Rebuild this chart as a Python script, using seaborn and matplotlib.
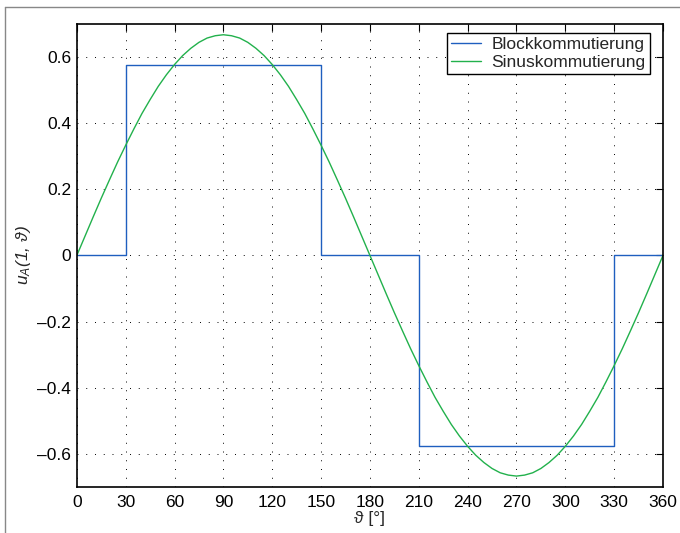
import numpy as np
import pandas as pd
import matplotlib
matplotlib.use('Agg')
import matplotlib.pyplot as plt
import seaborn as sns
from matplotlib.lines import Line2D

# block commutation (step points, steps-post)
theta_block = [0, 30, 150, 210, 330, 360]
u_block = [0.0, 0.577, 0.0, -0.577, 0.0, 0.0]

# sine commutation, read every 5 degrees
theta_sin = list(range(0, 365, 5))
u_sin = [0.000, 0.058, 0.116, 0.173, 0.228, 0.282, 0.333, 0.382, 0.429, 0.471,
         0.511, 0.546, 0.577, 0.604, 0.626, 0.644, 0.657, 0.664, 0.667, 0.664,
         0.657, 0.644, 0.626, 0.604, 0.577, 0.546, 0.511, 0.471, 0.429, 0.382,
         0.333, 0.282, 0.228, 0.173, 0.116, 0.058, 0.000, -0.058, -0.116, -0.173,
         -0.228, -0.282, -0.333, -0.382, -0.429, -0.471, -0.511, -0.546, -0.577, -0.604,
         -0.626, -0.644, -0.657, -0.664, -0.667, -0.664, -0.657, -0.644, -0.626, -0.604,
         -0.577, -0.546, -0.511, -0.471, -0.429, -0.382, -0.333, -0.282, -0.228, -0.173,
         -0.116, -0.058, 0.000]

xticks = list(range(0, 361, 30))
yticks = [-0.6, -0.4, -0.2, 0, 0.2, 0.4, 0.6]
ytick_labels = ['\u20130.6', '\u20130.4', '\u20130.2', '0', '0.2', '0.4', '0.6']

sns.set_theme(style='white')
plt.rcParams['font.family'] = ['Liberation Sans', 'DejaVu Sans']
plt.rcParams['mathtext.fontset'] = 'custom'
plt.rcParams['mathtext.rm'] = 'Liberation Sans'
plt.rcParams['mathtext.it'] = 'Liberation Sans:italic'
plt.rcParams['mathtext.fallback'] = 'stixsans'

fig = plt.figure(figsize=(6.8, 5.33), dpi=100)
ax = fig.add_axes([0.113, 0.0863, 0.862, 0.869])

df_block = pd.DataFrame({'theta': theta_block, 'u': u_block})
df_sin = pd.DataFrame({'theta': theta_sin, 'u': u_sin})

sns.lineplot(data=df_block, x='theta', y='u', ax=ax, color='#1f5fbf', lw=1.0,
             drawstyle='steps-post', label='Blockkommutierung')
sns.lineplot(data=df_sin, x='theta', y='u', ax=ax, color='#22b14c', lw=1.0,
             label='Sinuskommutierung')

ax.set_xlim(0, 360)
ax.set_ylim(-0.7, 0.7)
ax.set_xticks(xticks)
ax.set_yticks(yticks)
ax.set_yticklabels(ytick_labels)
ax.tick_params(direction='in', length=5, width=0.8, top=True, right=True,
               labelsize=12.5, colors='black')
ax.tick_params(axis='x', pad=5.5)
ax.tick_params(axis='y', pad=4)
ax.grid(True, color='black', linestyle=(0, (1, 8)), linewidth=0.7)
for s in ax.spines.values():
    s.set_color('black')
    s.set_linewidth(1.2)

ax.set_xlabel('\u03d1 [°]', fontsize=12.5, labelpad=1)
ax.set_ylabel('u$_A$(1, \u03d1)', fontsize=12.5, fontstyle='italic', labelpad=3)

leg = ax.legend(loc='upper right', bbox_to_anchor=(0.978, 0.981), borderaxespad=0,
                fontsize=12.5, frameon=True, fancybox=False,
                handlelength=1.75, handletextpad=0.6, borderpad=0.25,
                labelspacing=0.15)
leg.get_frame().set_edgecolor('black')
leg.get_frame().set_linewidth(1.0)
leg.get_frame().set_alpha(1)

# figure frame (top and left edge visible)
fig.add_artist(Line2D([0.007, 0.007], [0, 0.987], transform=fig.transFigure,
                      color='#888888', lw=1.0))
fig.add_artist(Line2D([0.007, 1.0], [0.987, 0.987], transform=fig.transFigure,
                      color='#888888', lw=1.0))

fig.savefig('out.png', dpi=100)
